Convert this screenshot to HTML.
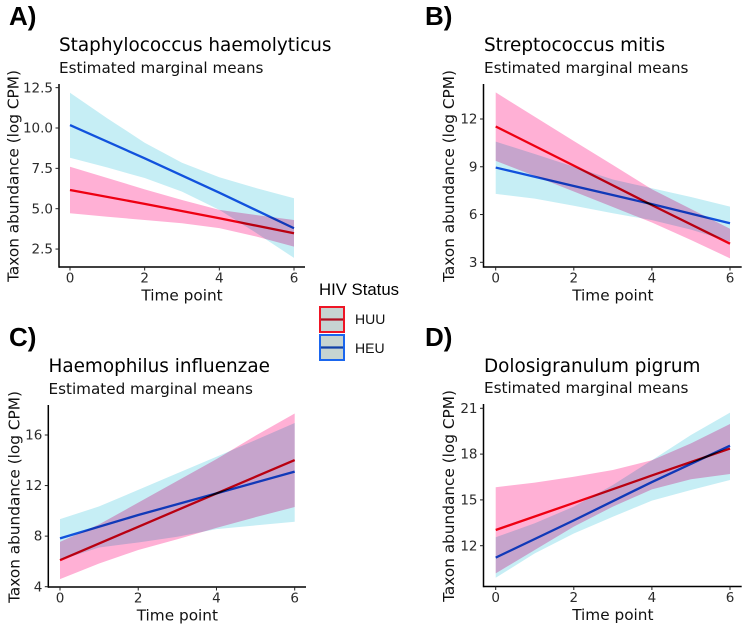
<!DOCTYPE html>
<html>
<head>
<meta charset="utf-8">
<title>Estimated marginal means by taxon</title>
<style>
html,body{margin:0;padding:0;background:#fff;}
svg{display:block;}
.ttl{font:18.4px "DejaVu Sans",sans-serif;fill:#000;}
.sub{font:15.2px "DejaVu Sans",sans-serif;fill:#111;}
.axt{font:15.3px "DejaVu Sans",sans-serif;fill:#111;}
.tick{font:13.5px "DejaVu Sans",sans-serif;fill:#2b2b2b;}
.tag{font:bold 26px "Liberation Sans",sans-serif;fill:#000;}
.leg{font:14px "Liberation Sans",sans-serif;fill:#111;}
.legt{font:17px "Liberation Sans",sans-serif;fill:#000;}
.blend{mix-blend-mode:multiply;}
</style>
</head>
<body>
<svg id="chart" xmlns="http://www.w3.org/2000/svg" width="750" height="630" viewBox="0 0 750 630" style="background:#fff;isolation:isolate">
  <text class="tag" x="9" y="25">A)</text>
  <text class="tag" x="425" y="25">B)</text>
  <text class="tag" x="9" y="346">C)</text>
  <text class="tag" x="425" y="346">D)</text>

  <text class="ttl" x="59" y="51">Staphylococcus haemolyticus</text>
  <text class="sub" x="59" y="73">Estimated marginal means</text>
  <text class="ttl" x="484" y="51">Streptococcus mitis</text>
  <text class="sub" x="484" y="73">Estimated marginal means</text>
  <text class="ttl" x="48.5" y="372">Haemophilus influenzae</text>
  <text class="sub" x="48.5" y="394">Estimated marginal means</text>
  <text class="ttl" x="484" y="372">Dolosigranulum pigrum</text>
  <text class="sub" x="484" y="393">Estimated marginal means</text>

  <g>
    <text class="legt" x="319" y="295" textLength="80" lengthAdjust="spacingAndGlyphs">HIV Status</text>
    <rect x="320" y="307" width="24" height="25" fill="#c6d4d1" stroke="#ee1525" stroke-width="2"></rect>
    <line x1="321" x2="343" y1="319.5" y2="319.5" stroke="#b01020" stroke-width="2.2"></line>
    <rect x="320" y="335" width="24" height="25" fill="#c6d4d1" stroke="#1a66ee" stroke-width="2"></rect>
    <line x1="321" x2="343" y1="347.5" y2="347.5" stroke="#1040a8" stroke-width="2.2"></line>
    <text class="leg" x="355" y="324">HUU</text>
    <text class="leg" x="355" y="353">HEU</text>
  </g>
</svg>
<script>
// Shared categories
var ribbonTimes = [0, 1, 2, 3, 4, 5, 6];
var lineTimes = [0, 2, 4, 6];
var xTickValues = [0, 2, 4, 6];
var xAxisTitle = "Time point";
var yAxisTitle = "Taxon abundance (log CPM)";

// Panel A
var aYTicks = [2.5, 5, 7.5, 10, 12.5];
var aYTickLabels = ["2.5", "5.0", "7.5", "10.0", "12.5"];
var aHuuLine = [6.16, 5.3, 4.41, 3.48];
var aHeuLine = [10.18, 8.12, 5.99, 3.79];
var aHuuUpper = [7.6, 6.9, 6.2, 5.54, 4.93, 4.6, 4.3];
var aHuuLower = [4.72, 4.5, 4.3, 4.1, 3.8, 3.27, 2.65];
var aHeuUpper = [12.18, 10.6, 9.09, 7.85, 6.95, 6.27, 5.65];
var aHeuLower = [8.16, 7.55, 6.9, 6.06, 4.93, 3.48, 1.95];

// Panel B
var bYTicks = [3, 6, 9, 12];
var bYTickLabels = ["3", "6", "9", "12"];
var bHuuLine = [11.53, 9.07, 6.59, 4.17];
var bHeuLine = [8.95, 7.79, 6.65, 5.45];
var bHuuUpper = [13.67, 12.14, 10.62, 9.11, 7.59, 6.35, 5.11];
var bHuuLower = [9.37, 8.42, 7.45, 6.47, 5.5, 4.4, 3.25];
var bHeuUpper = [10.58, 9.8, 9.0, 8.2, 7.65, 7.1, 6.5];
var bHeuLower = [7.3, 7.0, 6.55, 6.08, 5.65, 5.05, 4.3];

// Panel C
var cYTicks = [4, 8, 12, 16];
var cYTickLabels = ["4", "8", "12", "16"];
var cHuuLine = [6.1, 8.74, 11.38, 14.02];
var cHeuLine = [7.82, 9.67, 11.38, 13.1];
var cHuuUpper = [7.55, 8.93, 10.65, 12.37, 14.09, 15.95, 17.7];
var cHuuLower = [4.6, 5.84, 6.9, 7.75, 8.65, 9.5, 10.3];
var cHeuUpper = [9.35, 10.35, 11.66, 12.97, 14.28, 15.6, 16.95];
var cHeuLower = [6.1, 7.1, 7.5, 7.95, 8.55, 8.85, 9.14];

// Panel D
var dYTicks = [12, 15, 18, 21];
var dYTickLabels = ["12", "15", "18", "21"];
var dHuuLine = [13.03, 14.8, 16.6, 18.36];
var dHeuLine = [11.22, 13.66, 16.17, 18.55];
var dHuuUpper = [15.83, 16.13, 16.52, 16.96, 17.6, 18.7, 19.97];
var dHuuLower = [10.19, 11.72, 13.25, 14.56, 15.69, 16.35, 16.7];
var dHeuUpper = [12.55, 13.47, 14.56, 15.98, 17.6, 19.25, 20.72];
var dHeuLower = [9.9, 11.5, 12.8, 13.9, 14.95, 15.65, 16.3];

var SVGNS = "http://www.w3.org/2000/svg";
var svg = document.getElementById("chart");

function make(tag, attrs, parent) {
  var el = document.createElementNS(SVGNS, tag);
  for (var k in attrs) { el.setAttribute(k, attrs[k]); }
  parent.appendChild(el);
  return el;
}

function drawPanel(id, geom, yTicks, yLabels, huuLine, heuLine, huuUp, huuLow, heuUp, heuLow) {
  var x = function (t) { return geom.x0 + (geom.x6 - geom.x0) * t / 6; };
  var y = function (v) { return geom.pxA + (v - geom.valA) * (geom.pxB - geom.pxA) / (geom.valB - geom.valA); };

  var g = make("g", {}, svg);
  
  

  function ribbon(up, low, fill, name) {
    var pts = [];
    ribbonTimes.forEach(function (t, i) { pts.push(x(t).toFixed(2) + "," + y(up[i]).toFixed(2)); });
    for (var i = ribbonTimes.length - 1; i >= 0; i--) { pts.push(x(ribbonTimes[i]).toFixed(2) + "," + y(low[i]).toFixed(2)); }
    var p = make("polygon", { points: pts.join(" "), fill: fill, "class": "blend" }, g);
    
    
  }
  function trend(vals, color, name) {
    var pts = lineTimes.map(function (t, i) { return x(t).toFixed(2) + "," + y(vals[i]).toFixed(2); });
    var l = make("polyline", { points: pts.join(" "), fill: "none", stroke: color, "stroke-width": 2.3, "class": "blend" }, g);
    
    
  }

  ribbon(huuUp, huuLow, "#ffb0d5", "ribbon-huu-" + id);
  ribbon(heuUp, heuLow, "#c6eef5", "ribbon-heu-" + id);
  trend(huuLine, "#ee0015", "line-huu-" + id);
  trend(heuLine, "#1558e6", "line-heu-" + id);

  var yAxis = make("line", { x1: geom.axisX, x2: geom.axisX, y1: geom.top, y2: geom.bottom + 0.75, stroke: "#000", "stroke-width": 1.5 }, g);
  
  
  var xAxis = make("line", { x1: geom.axisX, x2: geom.right, y1: geom.bottom, y2: geom.bottom, stroke: "#000", "stroke-width": 1.5 }, g);
  
  

  yTicks.forEach(function (v, i) {
    var py = y(v);
    var tm = make("line", { x1: geom.axisX - 3.5, x2: geom.axisX, y1: py, y2: py, stroke: "#222", "stroke-width": 1 }, g);
    
    
    var tl = make("text", { x: geom.axisX - 6, y: py + 4.6, "text-anchor": "end", "class": "tick" }, g);
    
    
    tl.textContent = yLabels[i];
  });

  xTickValues.forEach(function (t) {
    var px = x(t);
    var tm = make("line", { x1: px, x2: px, y1: geom.bottom, y2: geom.bottom + 3.5, stroke: "#222", "stroke-width": 1 }, g);
    
    
    var tl = make("text", { x: px, y: geom.bottom + 15.5, "text-anchor": "middle", "class": "tick" }, g);
    
    
    tl.textContent = String(t);
  });

  var xt = make("text", { x: (geom.x0 + geom.x6) / 2, y: geom.bottom + 33.5, "text-anchor": "middle", "class": "axt" }, g);
  
  
  xt.textContent = xAxisTitle;

  var yCenter = geom.top + 92;
  var yt = make("text", { x: geom.yTitleX, y: yCenter, "text-anchor": "middle", "class": "axt", transform: "rotate(-90 " + geom.yTitleX + " " + yCenter + ")" }, g);
  
  
  yt.textContent = yAxisTitle;
}

drawPanel("a", { x0: 70, x6: 294, axisX: 59, right: 305, top: 84, bottom: 267, valA: 10, pxA: 128, valB: 5, pxB: 208.7, yTitleX: 18.5 },
  aYTicks, aYTickLabels, aHuuLine, aHeuLine, aHuuUpper, aHuuLower, aHeuUpper, aHeuLower);
drawPanel("b", { x0: 495.7, x6: 730, axisX: 483.5, right: 741.7, top: 84, bottom: 267, valA: 12, pxA: 119, valB: 3, pxB: 262.3, yTitleX: 454 },
  bYTicks, bYTickLabels, bHuuLine, bHeuLine, bHuuUpper, bHuuLower, bHeuUpper, bHeuLower);
drawPanel("c", { x0: 60, x6: 294.7, axisX: 48.3, right: 306, top: 405, bottom: 587, valA: 16, pxA: 435, valB: 4, pxB: 586.7, yTitleX: 19.5 },
  cYTicks, cYTickLabels, cHuuLine, cHeuLine, cHuuUpper, cHuuLower, cHeuUpper, cHeuLower);
drawPanel("d", { x0: 495.7, x6: 730, axisX: 483.5, right: 741.7, top: 404, bottom: 586.5, valA: 21, pxA: 408.3, valB: 12, pxB: 545.7, yTitleX: 454 },
  dYTicks, dYTickLabels, dHuuLine, dHeuLine, dHuuUpper, dHuuLower, dHeuUpper, dHeuLower);
</script>
</body>
</html>
